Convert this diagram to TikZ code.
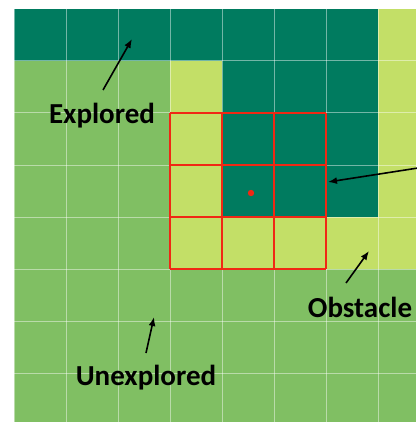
\documentclass[tikz,border=0pt]{standalone}
\usepackage{fontspec}
\setmainfont{Carlito}
\usetikzlibrary{arrows.meta}
\definecolor{dk}{RGB}{0,123,95}
\definecolor{md}{RGB}{128,191,99}
\definecolor{lt}{RGB}{195,223,103}
\definecolor{rd}{RGB}{240,40,20}
\tikzset{
  lbl/.style={font=\fontsize{29}{29}\selectfont\bfseries, text=black, inner sep=0pt},
  pointer/.style={line width=1.6pt, -{Latex[length=9pt,width=7pt]}},
  gridline/.style={white, opacity=0.45, line width=1pt},
  redline/.style={rd, line width=2pt}
}
\begin{document}
\begin{tikzpicture}[x=1pt,y=-1pt]
\useasboundingbox (0,0) rectangle (416,422);
\fill[white] (0,0) rectangle (416,422);
% base
\fill[md] (14,9) rectangle (416,422);
% explored (dark)
\fill[dk] (14,9) rectangle (378,61);
\fill[dk] (222,61) rectangle (378,217);
% obstacle (light)
\fill[lt] (170,61) rectangle (222,269);
\fill[lt] (222,217) rectangle (378,269);
\fill[lt] (378,9) rectangle (416,269);
% white grid
\foreach \x in {14,66,118,170,222,274,326,378} \draw[gridline] (\x,9) -- (\x,422);
\foreach \y in {9,61,113,165,217,269,321,373} \draw[gridline] (14,\y) -- (416,\y);
% red neighbourhood
\foreach \x in {170,222,274,326} \draw[redline] (\x,113) -- (\x,269);
\foreach \y in {113,165,217,269} \draw[redline] (170,\y) -- (326,\y);
\fill[rd] (251,193) circle (3.2);
% labels
\node[lbl] (explored) at (102,116) {Explored};
\node[lbl] (unexplored) at (146,378) {Unexplored};
\node[lbl] (obstacle) at (360,307) {Obstacle};
% arrow endpoints
\coordinate (e1) at (103,90);
\coordinate (e2) at (132,39);
\coordinate (u1) at (146,353);
\coordinate (u2) at (154,317);
\coordinate (o1) at (346,283);
\coordinate (o2) at (369,251);
\coordinate (r1) at (418,168);
\coordinate (r2) at (328,182);
\draw[pointer] (e1) -- (e2);
\draw[pointer] (u1) -- (u2);
\draw[pointer] (o1) -- (o2);
\draw[pointer] (r1) -- (r2);
\end{tikzpicture}
\end{document}
